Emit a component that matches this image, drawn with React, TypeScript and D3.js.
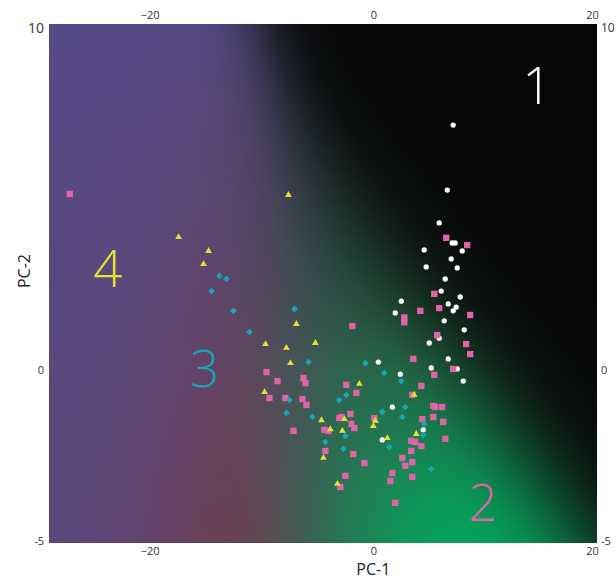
import { useEffect, useRef, useState } from 'react';
import * as d3 from 'd3';

// chart size and plot margins
const WIDTH = 616;
const HEIGHT = 580;
const margin = { top: 24, right: 19, bottom: 37, left: 49 };

const xDomain = [-29, 20];
const yDomain = [-5, 10];
const xTicks = [-20, 0, 20];
const yTicks = [-5, 0, 10];

// [PC-1, PC-2] per cluster
const cluster1 = [
  [7.14, 7.08], [6.61, 5.2], [5.89, 4.25], [7.05, 3.67], [7.32, 3.67], [4.55, 3.47],
  [7.95, 3.44], [6.96, 3.21], [4.73, 2.98], [7.5, 2.95], [6.43, 2.63], [6.07, 2.28],
  [7.77, 2.11], [2.5, 1.99], [6.7, 1.91], [7.41, 1.82], [7.14, 1.71], [1.96, 1.65],
  [6.34, 1.42], [8.13, 1.16], [5.89, 0.92], [5.0, 0.78], [6.7, 0.32], [5.18, 0.06],
  [7.5, 0.03], [2.41, -0.12], [8.04, -0.32], [0.45, 0.23], [1.7, -1.07], [4.46, -1.73],
  [0.8, -2.02],
];

const cluster2 = [
  [-27.14, 5.09], [6.52, 3.82], [8.39, 3.61], [5.45, 2.2], [5.89, 1.79], [4.2, 1.71],
  [8.66, 1.59], [2.77, 1.52], [2.77, 1.38], [-1.88, 1.27], [5.71, 1.01], [8.3, 0.75],
  [8.66, 0.46], [3.57, 0.32], [7.14, 0.03], [5.45, -0.14], [4.29, -0.46], [-9.55, -0.06],
  [-8.57, -0.32], [-6.25, -0.23], [-6.07, -0.38], [-2.41, -0.43], [-1.52, -0.66], [3.48, -0.72],
  [-6.34, -0.84], [-9.29, -0.81], [-7.86, -0.81], [-5.98, -1.01], [5.36, -1.04], [5.54, -1.07],
  [6.16, -1.07], [-2.05, -1.27], [-2.86, -1.36], [-3.04, -1.39], [0.09, -1.39], [4.38, -1.42],
  [5.36, -1.36], [-1.96, -1.56], [-1.7, -1.68], [6.25, -1.5], [-4.38, -1.73], [-4.02, -1.76],
  [-7.14, -1.76], [3.39, -2.05], [3.75, -2.08], [6.43, -1.99], [4.29, -2.2], [-4.29, -2.34],
  [3.39, -2.34], [-1.79, -2.43], [2.59, -2.54], [3.48, -2.66], [-0.8, -2.69], [2.86, -2.77],
  [1.7, -2.98], [-2.5, -3.06], [3.48, -3.09], [1.52, -3.21], [-2.95, -3.38], [1.96, -3.84],
];

const cluster3 = [
  [-13.75, 2.72], [-13.13, 2.63], [-14.46, 2.28], [-12.5, 1.71], [-11.07, 1.1], [-7.05, 1.76],
  [-5.8, 0.23], [-0.71, 0.2], [0.98, -0.09], [2.5, -0.32], [-7.5, -0.87], [-2.41, -0.72],
  [-3.04, -0.87], [-7.77, -1.24], [-5.45, -1.36], [2.86, -1.07], [0.8, -1.21], [2.59, -1.36],
  [4.55, -1.56], [4.46, -1.88], [-2.5, -1.91], [-4.29, -2.08], [1.43, -2.23], [-2.68, -2.28],
  [5.18, -2.86],
];

const cluster4 = [
  [-7.59, 5.06], [-17.41, 3.84], [-14.73, 3.44], [-15.18, 3.06], [-6.88, 1.33], [-9.64, 0.75],
  [-7.77, 0.64], [-5.18, 0.78], [-7.41, 0.2], [-9.73, -0.64], [-1.25, -0.4], [3.66, -0.72],
  [-2.59, -1.42], [-4.64, -1.45], [0.18, -1.47], [0, -1.62], [-3.84, -1.71], [-2.77, -1.76],
  [3.84, -1.85], [1.25, -1.97], [-4.46, -2.54], [-3.21, -3.29],
];

// big cluster numbers
const clusterNames = ['1', '2', '3', '4'];
const clusterLabelPos = [[14.64, 8.21], [9.82, -3.82], [-15.09, 0.03], [-23.75, 2.92]];
const clusterColors = ['#ffffff', '#e063a7', '#17a6b6', '#e6e130'];

// background field colours
const purpleCol = d3.rgb('#564a86');
const maroonCol = d3.rgb('#703c54');
const blackCol = d3.rgb('#060606');
const greenDull = d3.rgb('#2d6249');
const greenBright = d3.rgb('#04a85d');

const mix = (a, b, t) => [a.r + (b.r - a.r) * t, a.g + (b.g - a.g) * t, a.b + (b.b - a.b) * t];

// colour of the background at page pixel (X, Y)
const fieldAt = (X, Y) => {
  const u = (X - margin.left) / (WIDTH - margin.left - margin.right);
  const v = (Y - margin.top) / (HEIGHT - margin.top - margin.bottom);
  const m = Math.min(1, v * (0.25 + 0.75 * Math.exp(-(((X - 250) / 100) ** 2))) + 0.12 * u);
  const purple = mix(purpleCol, maroonCol, m);
  const gT = Math.exp(-(((X - 480) / 150) ** 2) - (((Y - 560) / 170) ** 2));
  // green dims towards the top of the plot
  const gLight = 0.5 + 0.5 * Math.min(1, Math.max(0, (Y - 80) / 290));
  const green = mix(greenDull, greenBright, gT).map((c) => c * gLight);
  const black = [blackCol.r, blackCol.g, blackCol.b];

  const sP = (290 - X) / 29;
  const d = 0.823 * (X - 395) - 0.57 * (Y - 240);
  const sB = d / 28 + 0.5;
  const eP = Math.exp(sP);
  const eB = Math.exp(sB);
  const eG = 1;
  const tot = eP + eB + eG;
  return [0, 1, 2].map((k) => (purple[k] * eP + black[k] * eB + green[k] * eG) / tot);
};

const App = () => {
  const topRef = useRef(null);
  const bottomRef = useRef(null);
  const leftRef = useRef(null);
  const rightRef = useRef(null);
  const [bg, setBg] = useState('');

  const innerW = WIDTH - margin.left - margin.right;
  const innerH = HEIGHT - margin.top - margin.bottom;

  const x = d3.scaleLinear().domain(xDomain).range([margin.left, WIDTH - margin.right]);
  const y = d3.scaleLinear().domain(yDomain).range([HEIGHT - margin.bottom, margin.top]);

  useEffect(() => {
    const canvas = document.createElement('canvas');
    canvas.width = innerW;
    canvas.height = innerH;
    const ctx = canvas.getContext('2d');
    const img = ctx.createImageData(innerW, innerH);
    for (let j = 0; j < innerH; j++) {
      for (let i = 0; i < innerW; i++) {
        const c = fieldAt(i + margin.left, j + margin.top);
        const k = (j * innerW + i) * 4;
        img.data[k] = c[0];
        img.data[k + 1] = c[1];
        img.data[k + 2] = c[2];
        img.data[k + 3] = 255;
      }
    }
    ctx.putImageData(img, 0, 0);
    setBg(canvas.toDataURL());
  }, []);

  useEffect(() => {
    const fmtX = (d) => (d < 0 ? `\u2212${-d}` : `${d}`);
    const fmtY = (d) => `${d}`;
    const style = (g) => {
      g.select('.domain').remove();
      g.attr('font-family', '"Open Sans", "Noto Sans", sans-serif')
        .attr('font-size', 11)
        .selectAll('text')
        .attr('fill', '#333');
    };
    select(topRef).call(d3.axisTop(x).tickValues(xTicks).tickSize(0).tickPadding(5).tickFormat(fmtX)).call(style);
    select(bottomRef).call(d3.axisBottom(x).tickValues(xTicks).tickSize(0).tickPadding(4).tickFormat(fmtX)).call(style);
    select(leftRef).call(d3.axisLeft(y).tickValues(yTicks).tickSize(0).tickPadding(5).tickFormat(fmtY)).call(style);
    select(rightRef).call(d3.axisRight(y).tickValues(yTicks).tickSize(0).tickPadding(4).tickFormat(fmtY)).call(style);
    // the "10" labels are drawn larger and sit a bit lower
    select(leftRef)
      .selectAll('.tick text')
      .filter((d) => d === 10)
      .attr('font-size', 14)
      .attr('dy', '0.6em');
    select(rightRef)
      .selectAll('.tick text')
      .filter((d) => d === 10)
      .attr('font-size', 12)
      .attr('dy', '0.6em');
    // "-5" sits a little higher
    [leftRef, rightRef].forEach((r) =>
      select(r)
        .selectAll('.tick text')
        .filter((d) => d === -5)
        .attr('dy', '0.1em')
    );
    // the end label "20" is pulled in a bit
    [topRef, bottomRef].forEach((r) =>
      select(r)
        .selectAll('.tick text')
        .filter((d) => d === 20)
        .attr('dx', -5)
    );
  }, []);

  function select(r) {
    return d3.select(r.current);
  }

  const circle = d3.symbol().type(d3.symbolCircle).size(22)();
  const square = d3.symbol().type(d3.symbolSquare).size(40)();
  const diamond = d3.symbol().type(d3.symbolSquare).size(22)();
  const triangle = d3.symbol().type(d3.symbolTriangle).size(20)();

  return (
    <svg width={WIDTH} height={HEIGHT} style={{ display: 'block' }}>
      <style>{'body{margin:0}'}</style>
      <rect x={0} y={0} width={WIDTH} height={HEIGHT} fill="#fff" />
      {bg && (
        <image
          href={bg}
          x={margin.left}
          y={margin.top}
          width={innerW}
          height={innerH}
          preserveAspectRatio="none"
        />
      )}
      <g>
        {cluster1.map((p, i) => (
          <path key={i} d={circle} transform={`translate(${x(p[0])},${y(p[1])})`} fill={clusterColors[0]} />
        ))}
      </g>
      <g>
        {cluster2.map((p, i) => (
          <path key={i} d={square} transform={`translate(${x(p[0])},${y(p[1])})`} fill={clusterColors[1]} />
        ))}
      </g>
      <g>
        {cluster3.map((p, i) => (
          <path key={i} d={diamond} transform={`translate(${x(p[0])},${y(p[1])}) rotate(45)`} fill={clusterColors[2]} />
        ))}
      </g>
      <g>
        {cluster4.map((p, i) => (
          <path key={i} d={triangle} transform={`translate(${x(p[0])},${y(p[1])})`} fill={clusterColors[3]} />
        ))}
      </g>
      <g fontFamily='"Open Sans", "Noto Sans", sans-serif' fontSize={51} fontWeight={300} textAnchor="middle">
        {clusterNames.map((t, i) => (
          <text key={t} x={x(clusterLabelPos[i][0])} y={y(clusterLabelPos[i][1])} dy="0.36em" fill={clusterColors[i]}>
            {t}
          </text>
        ))}
      </g>
      <g ref={topRef} transform={`translate(0,${margin.top})`} />
      <g ref={bottomRef} transform={`translate(0,${HEIGHT - margin.bottom})`} />
      <g ref={leftRef} transform={`translate(${margin.left},0)`} />
      <g ref={rightRef} transform={`translate(${WIDTH - margin.right},0)`} />
      <text
        x={x(0)}
        y={575}
        textAnchor="middle"
        fontFamily='"Open Sans", "Noto Sans", sans-serif'
        fontSize={16}
        fill="#222"
      >
        PC-1
      </text>
      <text
        transform="translate(30,271) rotate(-90)"
        textAnchor="middle"
        fontFamily='"Open Sans", "Noto Sans", sans-serif'
        fontSize={16}
        fill="#222"
      >
        PC-2
      </text>
    </svg>
  );
};

export default App;
